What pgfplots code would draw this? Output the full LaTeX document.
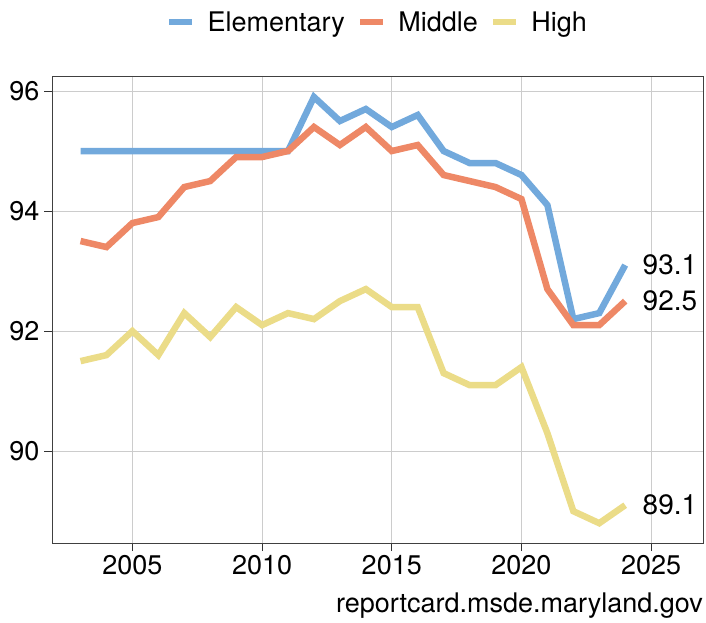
\documentclass[border=0pt]{standalone}
\usepackage{pgfplots}
\pgfplotsset{compat=1.18}
\usepackage{fontspec}
\setmainfont{TeX Gyre Heros}
\definecolor{celem}{HTML}{72A9DC}
\definecolor{cmid}{HTML}{EE8866}
\definecolor{chigh}{HTML}{EBDC88}
\definecolor{cgrid}{HTML}{CCCCCC}
\begin{document}
\begin{tikzpicture}
\begin{axis}[
  scale only axis,
  width=651pt, height=467pt,
  xmin=2001.9, xmax=2027,
  ymin=88.47, ymax=96.25,
  xtick={2005,2010,2015,2020,2025},
  ytick={90,92,94,96},
  /pgf/number format/1000 sep={},
  /pgf/number format/assume math mode=true,
  tick label style={font=\fontsize{27}{29}\selectfont},
  tick align=outside,
  xtick pos=bottom, ytick pos=left,
  major tick length=8pt,
  tick style={black!80, line width=0.8pt},
  axis line style={black!75, line width=0.9pt},
  grid=major,
  grid style={cgrid, line width=0.9pt},
  xticklabel style={yshift=-1pt},
  yticklabel style={xshift=-1pt},
  legend columns=3,
  legend style={at={(0.5,1)}, anchor=center, yshift=54pt, draw=none,
    font=\fontsize{27}{29}\selectfont,
    /tikz/every odd column/.append style={column sep=10pt},
    /tikz/every even column/.append style={column sep=10pt}},
  legend image code/.code={\draw[#1, line width=6.5pt] (0pt,0pt) -- (23pt,0pt);},
  every axis plot/.append style={line width=6.5pt, no markers},
]
\addplot[celem] coordinates {
(2003,95.0) (2004,95.0) (2005,95.0) (2006,95.0) (2007,95.0) (2008,95.0)
(2009,95.0) (2010,95.0) (2011,95.0) (2012,95.9) (2013,95.5) (2014,95.7)
(2015,95.4) (2016,95.6) (2017,95.0) (2018,94.8) (2019,94.8) (2020,94.6)
(2021,94.1) (2022,92.2) (2023,92.3) (2024,93.1)};
\addlegendentry{Elementary}
\addplot[cmid] coordinates {
(2003,93.5) (2004,93.4) (2005,93.8) (2006,93.9) (2007,94.4) (2008,94.5)
(2009,94.9) (2010,94.9) (2011,95.0) (2012,95.4) (2013,95.1) (2014,95.4)
(2015,95.0) (2016,95.1) (2017,94.6) (2018,94.5) (2019,94.4) (2020,94.2)
(2021,92.7) (2022,92.1) (2023,92.1) (2024,92.5)};
\addlegendentry{Middle}
\addplot[chigh] coordinates {
(2003,91.5) (2004,91.6) (2005,92.0) (2006,91.6) (2007,92.3) (2008,91.9)
(2009,92.4) (2010,92.1) (2011,92.3) (2012,92.2) (2013,92.5) (2014,92.7)
(2015,92.4) (2016,92.4) (2017,91.3) (2018,91.1) (2019,91.1) (2020,91.4)
(2021,90.3) (2022,89.0) (2023,88.8) (2024,89.1)};
\addlegendentry{High}
\node[anchor=west, font=\fontsize{28}{30}\selectfont, xshift=14pt] at (axis cs:2024,93.1) {93.1};
\node[anchor=west, font=\fontsize{28}{30}\selectfont, xshift=14pt] at (axis cs:2024,92.5) {92.5};
\node[anchor=west, font=\fontsize{28}{30}\selectfont, xshift=14pt] at (axis cs:2024,89.1) {89.1};
\end{axis}
\node[anchor=base east, inner sep=0pt, font=\fontsize{27}{29}\selectfont] at ([yshift=-69pt]current axis.south east) {reportcard.msde.maryland.gov};
\pgfresetboundingbox
\path[use as bounding box] ([shift={(-52pt,-80pt)}]current axis.south west) rectangle ([shift={(3pt,76pt)}]current axis.north east);
\end{tikzpicture}
\end{document}
